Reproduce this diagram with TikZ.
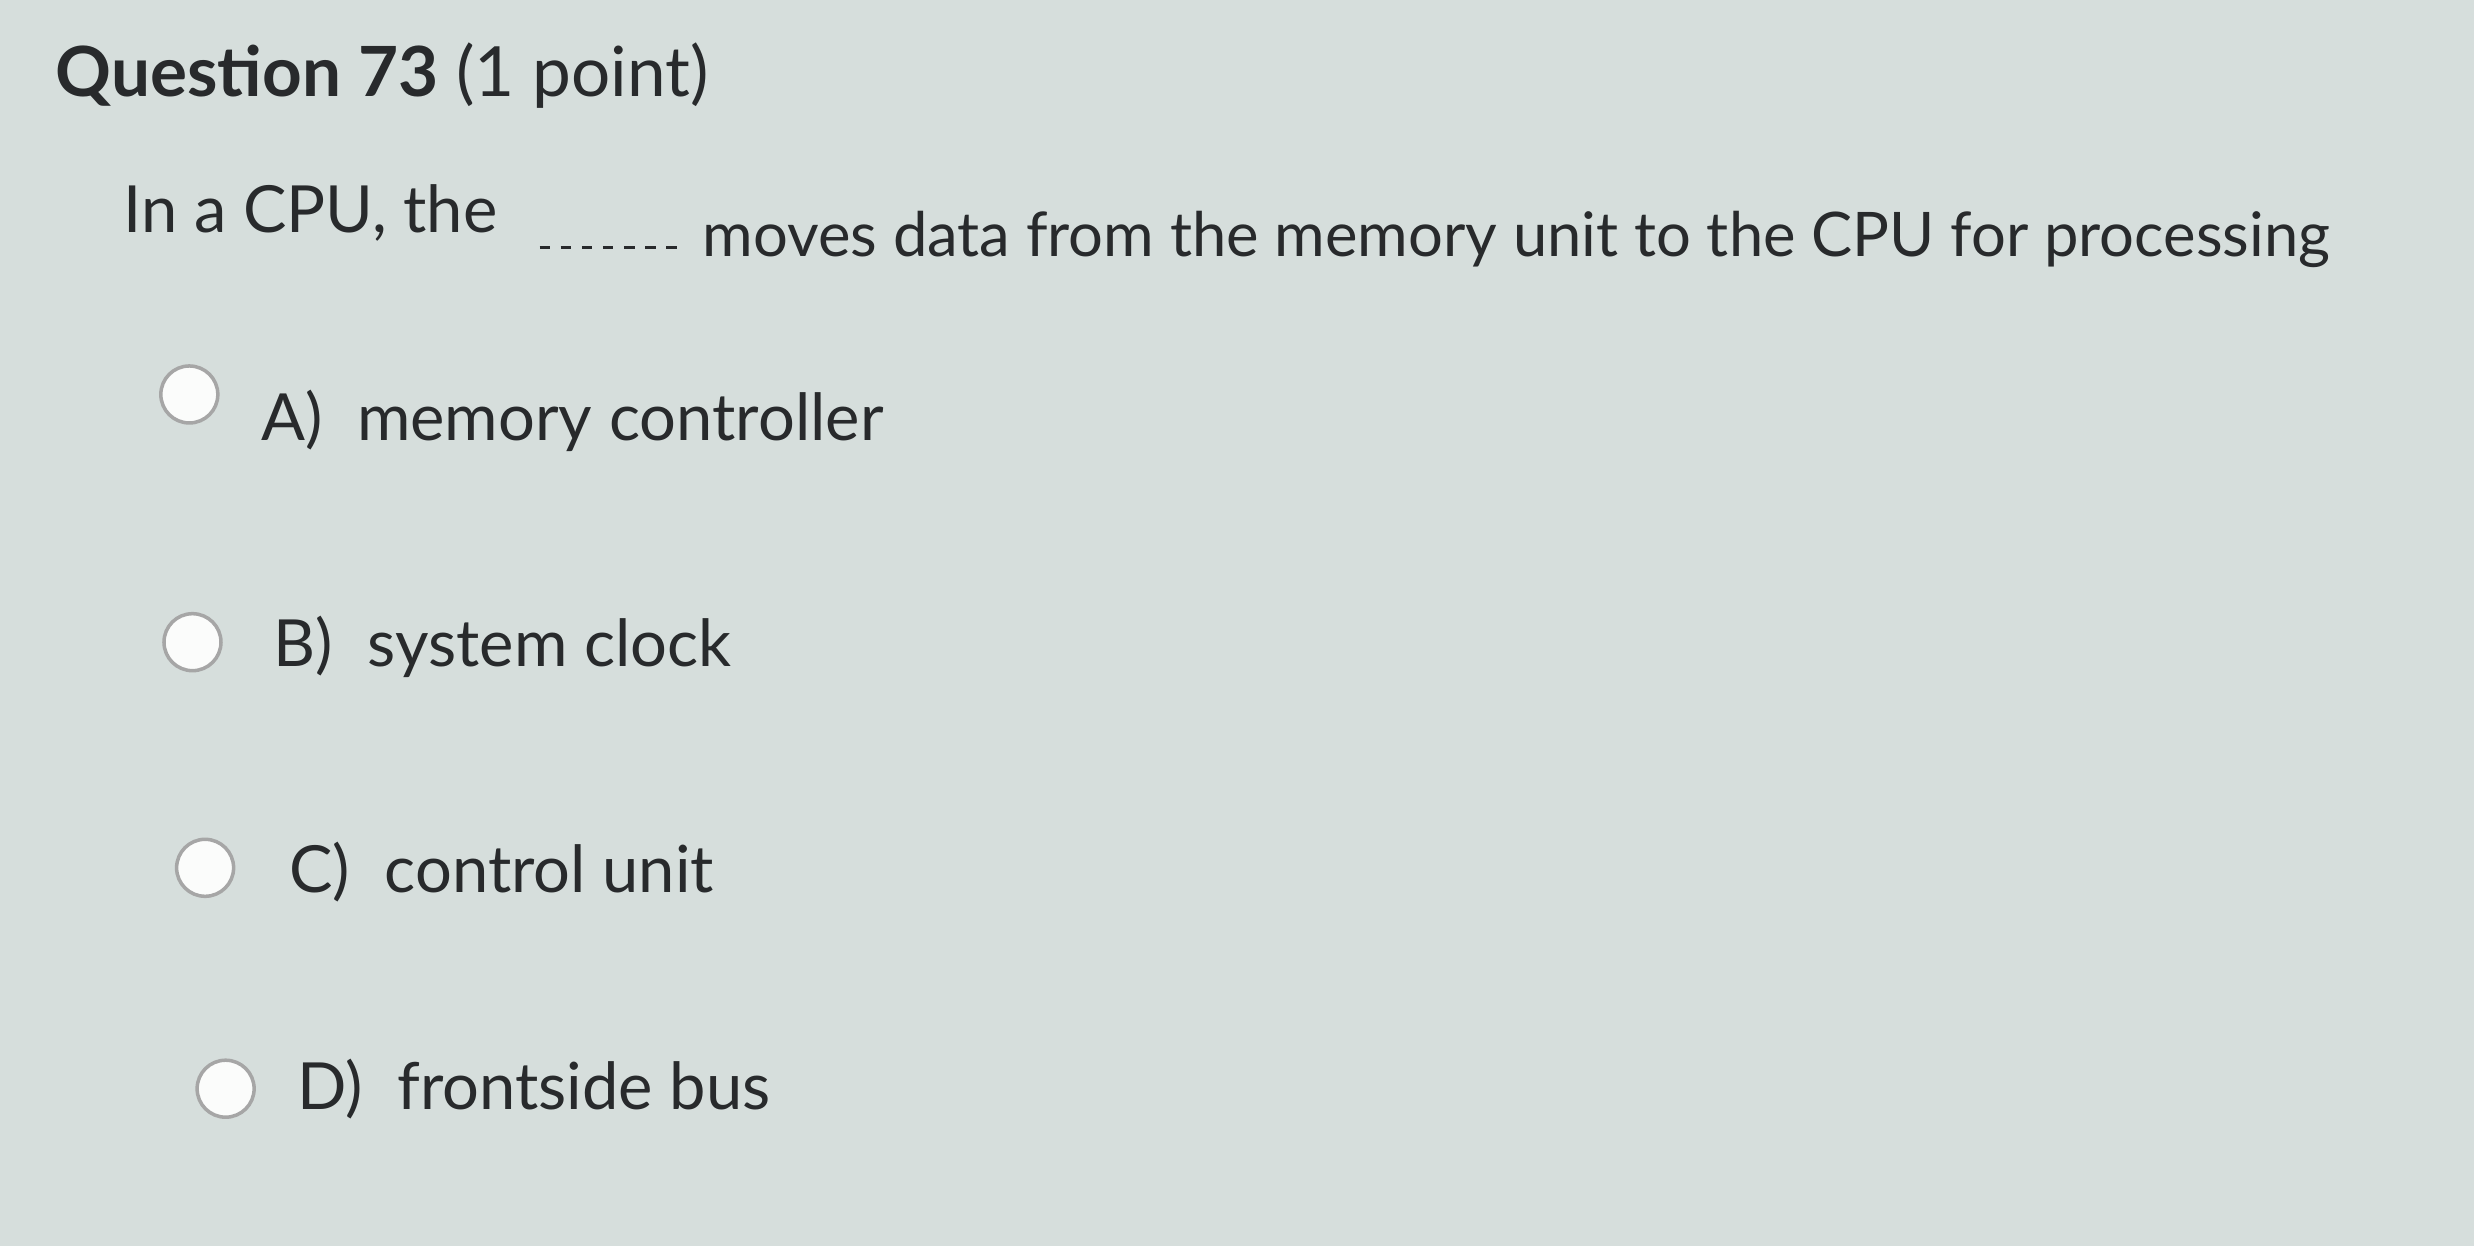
\documentclass[tikz,border=0pt]{standalone}
\usepackage{fontspec}
\setmainfont{Lato}
\definecolor{bg}{RGB}{214,222,220}
\definecolor{txt}{RGB}{40,42,44}
\begin{document}
\begin{tikzpicture}[x=0.01578cm,y=-0.01578cm,
  opt/.style={anchor=west,text=txt,font=\fontsize{18.5}{22}\selectfont,inner sep=0},
  radio/.style={circle,draw=gray!70,line width=1pt,fill=white!90!bg,minimum size=0.57cm,inner sep=0}]
\fill[bg] (0,0) rectangle (1568,790);
\useasboundingbox (0,0) rectangle (1568,790);
\node[anchor=west,text=txt,inner sep=0,font=\fontsize{19.7}{24}\selectfont] (title) at (35,48) {\textbf{Question 73} (1 point)};
\node[opt] (q1) at (78,135) {In a CPU, the};
\node[opt,font=\fontsize{17.5}{21}\selectfont] (q2) at (445,152) {moves data from the memory unit to the CPU for processing};
\draw[txt,dashed,line width=0.8pt] (342,157) -- (432,157);
\node[radio] (ra) at (120,250) {};
\node[opt] (a) at (165,267) {A)\; memory controller};
\node[radio] (rb) at (122,407) {};
\node[opt] (b) at (173,410) {B)\; system clock};
\node[radio] (rc) at (130,550) {};
\node[opt] (c) at (183,553) {C)\; control unit};
\node[radio] (rd) at (143,690) {};
\node[opt] (d) at (188,690) {D)\; frontside bus};
\end{tikzpicture}
\end{document}
